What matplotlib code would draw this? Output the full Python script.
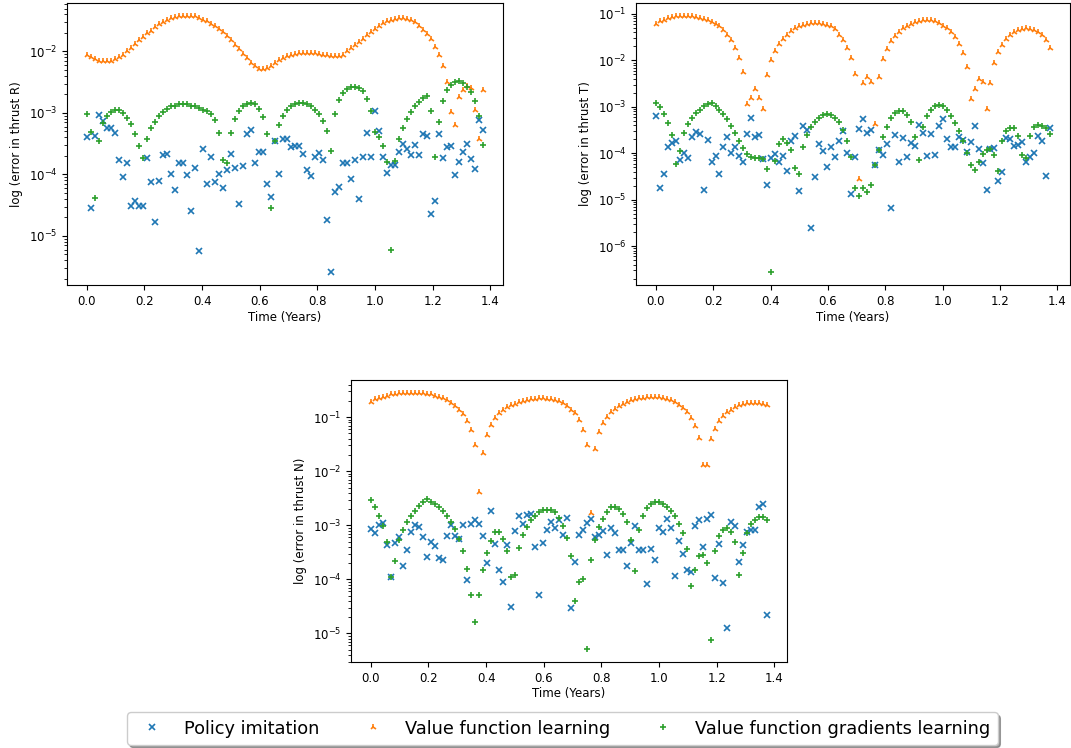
import numpy as np
import matplotlib
matplotlib.use("Agg")
import matplotlib.pyplot as plt

# sample times (100 evenly spaced samples over the transfer)
time_years = np.linspace(0.0, 1.375, 100)

# log10 of the thrust error, one list per method and thrust component
# --- thrust R ---
logerr_R_policy = [
    -3.39, -4.55, -3.38, -3.04, -3.13, -3.25, -3.25, -3.32, -3.76, -4.04,
    -3.81, -4.51, -4.44, -4.51, -4.51, -3.74, -4.13, -4.77, -4.10, -3.68,
    -3.66, -3.99, -4.25, -3.81, -3.81, -4.01, -4.59, -3.89, -5.24, -3.59,
    -4.15, -3.71, -4.13, -3.99, -4.22, -3.92, -3.66, -3.90, -4.48, -3.86,
    -3.34, -3.28, -3.81, -3.63, -3.63, -4.15, -4.36, -3.46, -3.99, -3.43,
    -3.43, -3.55, -3.54, -3.54, -3.66, -3.93, -4.03, -3.72, -3.65, -3.77,
    -4.74, -5.59, -4.29, -4.20, -3.81, -3.81, -4.07, -3.76, -4.40, -3.72,
    -3.32, -3.72, -2.97, -3.29, -3.72, -3.98, -3.84, -3.84, -3.63, -3.50,
    -3.59, -3.69, -3.52, -3.68, -3.35, -3.38, -4.64, -4.43, -3.34, -3.73,
    -3.55, -3.53, -4.01, -3.79, -3.63, -3.51, -3.75, -3.91, -3.11, -3.28,
]
logerr_R_value = [
    -2.05, -2.09, -2.12, -2.15, -2.16, -2.16, -2.15, -2.13, -2.09, -2.05,
    -2.00, -1.94, -1.88, -1.82, -1.76, -1.70, -1.66, -1.61, -1.56, -1.52,
    -1.49, -1.46, -1.44, -1.42, -1.42, -1.42, -1.42, -1.43, -1.45, -1.48,
    -1.51, -1.55, -1.59, -1.64, -1.69, -1.75, -1.82, -1.89, -1.96, -2.04,
    -2.11, -2.18, -2.24, -2.28, -2.29, -2.27, -2.23, -2.18, -2.14, -2.10,
    -2.08, -2.05, -2.04, -2.03, -2.03, -2.02, -2.02, -2.03, -2.04, -2.05,
    -2.06, -2.08, -2.08, -2.07, -2.05, -2.00, -1.95, -1.90, -1.85, -1.79,
    -1.73, -1.68, -1.63, -1.58, -1.54, -1.51, -1.49, -1.47, -1.46, -1.46,
    -1.47, -1.49, -1.52, -1.59, -1.65, -1.72, -1.80, -1.92, -2.05, -2.23,
    -2.49, -2.98, -3.19, -2.74, -2.62, -2.56, -2.60, -2.95, -3.43, -2.63,
]
logerr_R_gradients = [
    -3.01, -3.31, -4.39, -3.46, -3.17, -3.05, -2.98, -2.96, -2.96, -3.00,
    -3.08, -3.18, -3.34, -3.54, -3.74, -3.43, -3.25, -3.14, -3.05, -2.98,
    -2.93, -2.89, -2.88, -2.86, -2.86, -2.86, -2.88, -2.89, -2.92, -2.95,
    -2.97, -3.02, -3.12, -3.32, -3.77, -3.82, -3.32, -3.10, -2.97, -2.89,
    -2.85, -2.84, -2.86, -2.93, -3.06, -3.35, -4.55, -3.46, -3.19, -3.05,
    -2.95, -2.89, -2.85, -2.83, -2.83, -2.85, -2.89, -2.95, -3.01, -3.13,
    -3.30, -3.62, -3.01, -2.79, -2.67, -2.61, -2.57, -2.57, -2.59, -2.65,
    -2.77, -2.97, -3.31, -3.39, -3.53, -3.79, -5.23, -3.78, -3.43, -3.24,
    -3.10, -2.98, -2.89, -2.82, -2.76, -2.73, -2.97, -3.71, -3.15, -2.81,
    -2.63, -2.54, -2.49, -2.48, -2.51, -2.57, -2.66, -2.81, -3.05, -3.52,
]

# --- thrust T ---
logerr_T_policy = [
    -3.19, -4.75, -4.44, -3.86, -3.77, -3.73, -4.14, -4.00, -4.11, -3.64,
    -3.55, -3.59, -4.80, -3.72, -4.19, -4.05, -4.45, -3.86, -3.64, -3.99,
    -3.87, -4.05, -4.19, -3.59, -3.25, -3.64, -3.61, -4.13, -4.69, -4.11,
    -4.01, -4.18, -4.05, -4.39, -3.73, -3.63, -4.81, -3.41, -3.49, -5.61,
    -4.52, -3.79, -3.95, -4.29, -3.86, -4.09, -3.73, -3.51, -3.99, -4.87,
    -4.07, -3.48, -3.26, -3.57, -3.49, -4.26, -3.93, -4.04, -3.80, -5.18,
    -3.61, -4.18, -3.68, -4.07, -3.77, -3.84, -3.39, -3.57, -4.06, -3.59,
    -4.04, -3.41, -3.27, -3.69, -3.86, -3.86, -3.64, -3.71, -3.98, -3.76,
    -3.41, -3.91, -4.21, -4.79, -3.91, -3.88, -4.59, -4.41, -3.68, -3.69,
    -3.84, -3.82, -3.75, -4.19, -4.09, -4.00, -3.63, -3.73, -4.48, -3.46,
]
logerr_T_value = [
    -1.21, -1.16, -1.12, -1.09, -1.06, -1.04, -1.04, -1.04, -1.04, -1.04,
    -1.06, -1.08, -1.11, -1.14, -1.17, -1.21, -1.27, -1.34, -1.45, -1.57,
    -1.74, -1.94, -2.25, -2.93, -2.82, -2.61, -2.80, -3.04, -2.32, -2.00,
    -1.80, -1.64, -1.54, -1.45, -1.37, -1.31, -1.27, -1.24, -1.21, -1.20,
    -1.20, -1.20, -1.21, -1.24, -1.27, -1.32, -1.45, -1.57, -1.73, -1.94,
    -2.30, -4.55, -2.49, -2.36, -2.46, -3.38, -2.36, -1.98, -1.75, -1.59,
    -1.47, -1.38, -1.31, -1.25, -1.21, -1.17, -1.15, -1.14, -1.14, -1.14,
    -1.16, -1.20, -1.25, -1.31, -1.39, -1.50, -1.64, -1.84, -2.14, -2.84,
    -2.62, -2.39, -2.46, -3.04, -2.48, -2.05, -1.82, -1.66, -1.54, -1.46,
    -1.39, -1.35, -1.32, -1.31, -1.32, -1.34, -1.39, -1.46, -1.57, -1.74,
]
logerr_T_gradients = [
    -2.91, -3.01, -3.16, -3.34, -3.61, -4.24, -3.96, -3.57, -3.38, -3.25,
    -3.14, -3.06, -2.99, -2.93, -2.91, -2.99, -3.06, -3.16, -3.27, -3.41,
    -3.56, -3.73, -3.88, -4.01, -4.09, -4.11, -4.11, -4.13, -4.34, -6.56,
    -4.16, -3.80, -3.70, -3.77, -3.93, -4.31, -4.44, -3.86, -3.61, -3.43,
    -3.32, -3.23, -3.18, -3.16, -3.18, -3.23, -3.32, -3.50, -3.74, -4.09,
    -4.75, -4.93, -4.75, -4.84, -4.69, -4.26, -3.93, -3.64, -3.43, -3.25,
    -3.13, -3.09, -3.09, -3.18, -3.32, -3.66, -4.14, -3.43, -3.19, -3.06,
    -2.99, -2.96, -2.99, -3.07, -3.20, -3.34, -3.51, -3.73, -4.00, -4.26,
    -4.36, -4.19, -4.02, -3.93, -3.91, -4.04, -4.38, -3.74, -3.52, -3.45,
    -3.46, -3.62, -4.04, -4.11, -3.62, -3.44, -3.39, -3.41, -3.46, -3.59,
]

# --- thrust N ---
logerr_N_policy = [
    -3.06, -3.15, -3.00, -2.96, -3.37, -3.96, -3.33, -3.22, -3.75, -3.45,
    -3.13, -2.99, -3.03, -3.22, -3.59, -3.31, -3.39, -3.60, -3.64, -3.20,
    -2.99, -3.20, -3.25, -2.99, -4.02, -2.98, -2.90, -2.98, -3.20, -3.69,
    -2.73, -3.34, -3.82, -4.04, -3.37, -4.51, -3.11, -2.82, -2.98, -2.80,
    -2.79, -3.40, -4.29, -3.33, -3.09, -2.94, -3.05, -2.90, -3.18, -2.87,
    -4.53, -3.68, -3.17, -3.08, -2.96, -2.88, -3.22, -3.17, -3.11, -3.55,
    -3.05, -3.15, -3.46, -3.46, -3.75, -3.33, -3.02, -3.45, -3.45, -4.08,
    -3.43, -3.64, -3.05, -3.13, -2.88, -3.05, -3.93, -3.29, -3.53, -3.83,
    -3.87, -3.01, -2.91, -3.40, -2.88, -2.80, -3.98, -3.34, -4.07, -4.90,
    -2.94, -3.01, -3.68, -3.36, -3.13, -3.08, -3.08, -2.66, -2.61, -4.66,
]
logerr_N_value = [
    -0.72, -0.67, -0.64, -0.62, -0.60, -0.58, -0.57, -0.56, -0.56, -0.55,
    -0.55, -0.55, -0.55, -0.56, -0.57, -0.58, -0.60, -0.63, -0.65, -0.69,
    -0.74, -0.79, -0.86, -0.94, -1.07, -1.24, -1.51, -2.39, -1.66, -1.33,
    -1.15, -1.02, -0.93, -0.87, -0.82, -0.78, -0.75, -0.72, -0.70, -0.68,
    -0.67, -0.66, -0.65, -0.65, -0.66, -0.67, -0.68, -0.71, -0.74, -0.79,
    -0.86, -0.93, -1.06, -1.23, -1.52, -2.77, -1.58, -1.27, -1.10, -0.99,
    -0.91, -0.84, -0.79, -0.75, -0.72, -0.69, -0.67, -0.65, -0.64, -0.63,
    -0.63, -0.63, -0.63, -0.64, -0.66, -0.69, -0.72, -0.77, -0.83, -0.91,
    -1.01, -1.16, -1.39, -1.88, -1.88, -1.41, -1.21, -1.07, -0.98, -0.91,
    -0.86, -0.82, -0.78, -0.75, -0.74, -0.73, -0.73, -0.74, -0.75, -0.78,
]
logerr_N_gradients = [
    -2.53, -2.66, -2.82, -3.02, -3.31, -3.95, -3.66, -3.28, -3.09, -2.94,
    -2.83, -2.74, -2.65, -2.57, -2.52, -2.56, -2.61, -2.66, -2.73, -2.82,
    -2.93, -3.07, -3.25, -3.48, -3.80, -4.29, -4.78, -4.29, -3.82, -3.51,
    -3.29, -3.12, -3.12, -3.26, -3.47, -3.95, -3.91, -3.42, -3.18, -3.03,
    -2.91, -2.82, -2.76, -2.72, -2.71, -2.72, -2.76, -2.87, -3.02, -3.23,
    -3.57, -4.40, -4.04, -4.00, -5.29, -3.65, -3.28, -3.04, -2.88, -2.76,
    -2.66, -2.66, -2.70, -2.79, -2.94, -3.28, -3.85, -3.09, -2.82, -2.68,
    -2.60, -2.56, -2.56, -2.60, -2.66, -2.73, -2.83, -2.97, -3.15, -3.44,
    -4.13, -3.83, -3.57, -3.54, -3.69, -5.12, -3.48, -3.19, -3.08, -3.05,
    -3.12, -3.31, -3.92, -3.52, -3.14, -2.98, -2.90, -2.85, -2.85, -2.90,
]

method_labels = ["Policy imitation", "Value function learning",
                 "Value function gradients learning"]
method_markers = ["x", "2", "+"]
method_colors = ["C0", "C1", "C2"]

panels = [
    ("R", [logerr_R_policy, logerr_R_value, logerr_R_gradients]),
    ("T", [logerr_T_policy, logerr_T_value, logerr_T_gradients]),
    ("N", [logerr_N_policy, logerr_N_value, logerr_N_gradients]),
]

W, H = 1071, 748
# axes boxes in pixels: left, top, right, bottom
boxes = [(67, 3, 503, 285), (636, 3, 1070, 285), (351, 380, 787, 662)]

fig = plt.figure(figsize=(W / 100, H / 100), dpi=100)
handles = []
for (comp, series), (l, t, r, b) in zip(panels, boxes):
    ax = fig.add_axes([l / W, (H - b) / H, (r - l) / W, (b - t) / H])
    for logs, marker, color, label in zip(series, method_markers, method_colors, method_labels):
        h, = ax.plot(time_years, 10.0 ** np.array(logs), linestyle="none",
                     marker=marker, color=color, markersize=4.5,
                     markeredgewidth=1.2, label=label)
        if comp == "R":
            handles.append(h)
    ax.set_yscale("log")
    ax.set_xlabel("Time (Years)", fontsize=8.5, labelpad=2)
    ax.set_ylabel(f"log (error in thrust {comp})", fontsize=8.5)
    ax.tick_params(labelsize=8.5)

fig.legend(handles, method_labels, loc="center", bbox_to_anchor=(0.525, 0.026),
           ncol=3, fontsize=12.8, shadow=True)

fig.savefig("out.png", dpi=100)
